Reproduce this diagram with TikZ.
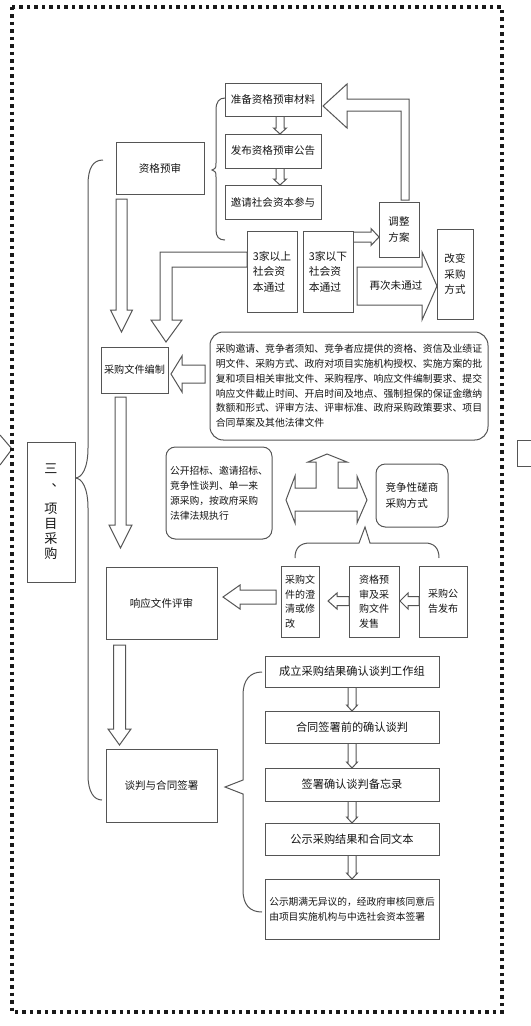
\documentclass[tikz,border=0pt]{standalone}
\usepackage{fontspec}
\setmainfont{Noto Sans CJK SC}
\definecolor{lg}{HTML}{555555}
\definecolor{tx}{HTML}{151515}
\newcommand\BX[7]{\node[#6, minimum width={(#4-#2)*0.75pt}, minimum height={(#5-#3)*0.75pt}] (#1) at ({(#2+#4)/2},{(#3+#5)/2}) {#7};}
\newcommand\DnArrow[6]{\draw[blk] ({#1-#4},#2) -- ({#1+#4},#2) -- ({#1+#4},{#3-#6}) -- ({#1+#5},{#3-#6}) -- (#1,#3) -- ({#1-#5},{#3-#6}) -- ({#1-#4},{#3-#6}) -- cycle;}
\newcommand\HzArrow[6]{\draw[blk] (#2,{#1-#4}) -- (#2,{#1+#4}) -- ({#3+#6},{#1+#4}) -- ({#3+#6},{#1+#5}) -- (#3,#1) -- ({#3+#6},{#1-#5}) -- ({#3+#6},{#1-#4}) -- cycle;}
\tikzset{
 bx/.style={draw=lg, line width=0.75pt, fill=white, inner sep=0pt, outer sep=0pt, text=tx, align=center, font=\fontsize{7.9pt}{11.5pt}\selectfont},
 rbx/.style={bx, rounded corners=7pt},
 blk/.style={draw=lg, line width=0.75pt, fill=white, line join=miter},
 brc/.style={draw=lg, line width=0.75pt},
 lbl/.style={text=tx, inner sep=0pt, font=\fontsize{7.9pt}{11.5pt}\selectfont},
 frame/.style={draw=black!90, line width=2.6pt, dash pattern=on 2.6pt off 3pt},
}
\begin{document}
\begin{tikzpicture}[x=0.75pt,y=-0.75pt]
\useasboundingbox (0,0) rectangle (531,1026);
% fragments of neighbouring diagrams
\draw[brc] (0,435) -- (12,449) -- (0,465);
\draw[brc] (531,440) -- (517,440) -- (517,466) -- (531,466);
% frame
\draw[frame] (12,7) rectangle (502,1012);

% braces
\draw[brc] (225,98) .. controls (219,98) and (216,102) .. (216,110) -- (216,163) .. controls (216,168) .. (212,170) .. controls (216,172) .. (216,177) -- (216,230) .. controls (216,237) and (219,240) .. (225,240);
\draw[brc] (103,160) .. controls (93,160) and (88,168) .. (88,185) -- (88,448) .. controls (88,468) and (82,478) .. (75,478) .. controls (82,478) and (88,488) .. (88,508) -- (88,775) .. controls (88,792) and (94,800) .. (102,800);
\draw[brc] (262,672) .. controls (250,672) and (243,680) .. (243,695) -- (243,780) -- (225,787) -- (243,794) -- (243,890) .. controls (243,905) and (250,912) .. (262,912);
\draw[brc] (295,558) .. controls (295,548) and (300,543) .. (310,543) -- (359,543) -- (365,527) -- (370,543) -- (425,543) .. controls (434,543) and (439,548) .. (439,558);

% block arrows
\DnArrow{280}{116}{134}{4}{6.5}{6}
\DnArrow{280}{168}{185}{4}{6.5}{6}
\DnArrow{121.5}{199}{332}{5.5}{11}{22}
\DnArrow{120.5}{397}{548}{5.5}{11.5}{23}
\DnArrow{119.5}{645}{745}{6}{11.5}{16}
\DnArrow{352}{687}{711}{4}{5.5}{6}
\DnArrow{352}{743}{768}{4}{5.5}{6}
\DnArrow{352}{801}{823}{4}{5.5}{6}
\DnArrow{352}{855}{879}{4}{5.5}{6}
\HzArrow{374}{205}{171}{9}{18}{11}
\HzArrow{601}{419}{400}{4.5}{8}{8}
\HzArrow{601}{349}{328}{4.5}{8}{9}
\HzArrow{597}{276}{223}{7}{12}{17}
\HzArrow{237}{353}{379}{5}{8.5}{-8}
\HzArrow{286}{357}{437}{19}{34}{-15}
\draw[blk] (401,200) -- (401,111) -- (347,111) -- (347,128) -- (323,106) -- (347,84) -- (347,99) -- (409,99) -- (409,200) -- cycle;
\draw[blk] (247,252) -- (160,252) -- (160,320) -- (151,320) -- (166,342) -- (182,320) -- (172,320) -- (172,267) -- (247,267) -- cycle;
\draw[blk] (286,500) -- (295,476) -- (295,488) -- (316,488) -- (316,462) -- (308,462) -- (327,454) -- (347,462) -- (338,462) -- (338,488) -- (357,488) -- (357,476) -- (367,500) -- (357,523) -- (357,511) -- (295,511) -- (295,523) -- cycle;
\node[lbl] (again) at (396,286) {再次未通过};

% boxes
\BX{prep}{225}{83}{321}{116}{bx}{准备资格预审材料}
\BX{pub}{225}{134}{321}{168}{bx}{发布资格预审公告}
\BX{inv}{225}{185}{321}{219}{bx}{邀请社会资本参与}
\BX{zgys}{116}{142}{204}{194}{bx}{资格预审}
\BX{tz}{379}{202}{419}{257}{bx}{调整\\方案}
\BX{up3}{247}{231}{297}{312}{bx, align=left, font=\fontsize{8.1pt}{11.6pt}\selectfont}{3家以上\\社会资\\本通过}
\BX{dn3}{303}{231}{353}{312}{bx, align=left, font=\fontsize{8.1pt}{11.6pt}\selectfont}{3家以下\\社会资\\本通过}
\BX{gb}{437}{229}{473}{319}{bx}{改变\\采购\\方式}
\BX{cgbz}{101}{347}{168}{393}{bx, font=\fontsize{7.6pt}{11pt}\selectfont}{采购文件编制}
\BX{big}{210}{332}{488}{440}{rbx, rounded corners=10pt, align=left, font=\fontsize{7.4pt}{11.1pt}\selectfont}{采购邀请、竞争者须知、竞争者应提供的资格、资信及业绩证\\明文件、采购方式、政府对项目实施机构授权、实施方案的批\\复和项目相关审批文件、采购程序、响应文件编制要求、提交\\响应文件截止时间、开启时间及地点、强制担保的保证金缴纳\\数额和形式、评审方法、评审标准、政府采购政策要求、项目\\合同草案及其他法律文件}
\BX{main}{27}{442}{75}{582}{bx, font=\fontsize{9.8pt}{11.25pt}\selectfont}{三\\[-1.5pt]\hspace*{1.1em}、\\[9pt]项\\目\\采\\购}
\BX{gk}{166}{447}{272}{539}{rbx, align=left, font=\fontsize{7.35pt}{11.2pt}\selectfont}{公开招标、邀请招标、\\竞争性谈判、单一来\\源采购，按政府采购\\法律法规执行}
\BX{jz}{376}{464}{448}{527}{rbx, align=left}{竞争性磋商\\采购方式}
\BX{xy}{106}{567}{217}{639}{bx}{响应文件评审}
\BX{cq}{281}{566}{319}{637}{bx, align=left, font=\fontsize{7.5pt}{10.9pt}\selectfont}{采购文\\件的澄\\清或修\\改}
\BX{zgcg}{349}{566}{399}{637}{bx, align=left, font=\fontsize{7.5pt}{10.9pt}\selectfont}{资格预\\审及采\\购文件\\发售}
\BX{gg}{419}{566}{467}{637}{bx, align=left, font=\fontsize{7.5pt}{10.9pt}\selectfont}{采购公\\告发布}
\BX{tp}{106}{749}{217}{822}{bx}{谈判与合同签署}
\BX{r1}{265}{656}{439}{687}{bx, font=\fontsize{8.4pt}{11pt}\selectfont}{成立采购结果确认谈判工作组}
\BX{r2}{265}{711}{439}{743}{bx, font=\fontsize{8.4pt}{11pt}\selectfont}{合同签署前的确认谈判}
\BX{r3}{265}{768}{439}{801}{bx, font=\fontsize{8.4pt}{11pt}\selectfont}{签署确认谈判备忘录}
\BX{r4}{265}{823}{439}{855}{bx, font=\fontsize{8.4pt}{11pt}\selectfont}{公示采购结果和合同文本}
\BX{r5}{265}{879}{439}{939}{bx, align=left, font=\fontsize{7.3pt}{11pt}\selectfont}{公示期满无异议的，经政府审核同意后\\由项目实施机构与中选社会资本签署}
\end{tikzpicture}
\end{document}
